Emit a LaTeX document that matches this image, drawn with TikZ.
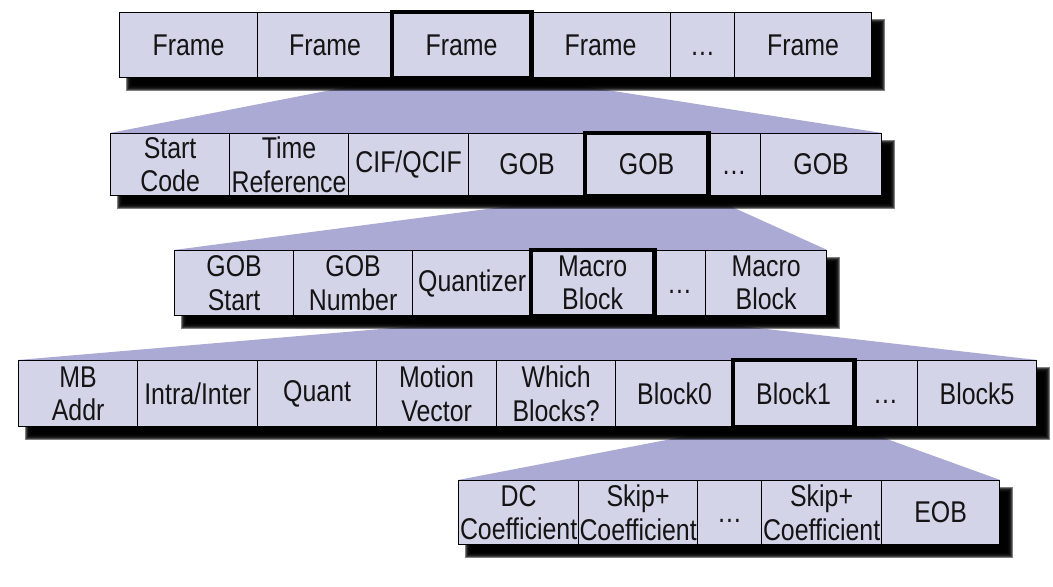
\documentclass[tikz,border=0pt]{standalone}
\usepackage{fontspec}
\setmainfont{Liberation Sans}[FakeStretch=0.83]
\definecolor{cellfill}{HTML}{D4D4E9}
\definecolor{fanfill}{HTML}{AAAAD5}
\pgfdeclarelayer{back}
\pgfdeclarelayer{shade}
\pgfsetlayers{back,shade,main}
\newcommand{\more}{\vphantom{F}\ldots}
% soft shadow under one row, from its first to its last cell
\newcommand{\rowshadow}[2]{%
  \foreach \e in {-3,...,3}
    \fill[shadowfill] ([shift={(10-\e,10-\e)}]#1.north west) rectangle ([shift={(10+\e,10+\e)}]#2.south east);}
\tikzset{
  cell/.style={draw, line width=0.6pt, fill=cellfill, inner sep=0pt, anchor=north west, align=center,
    text=black!92, font=\fontsize{15}{16.7}\selectfont},
  sel/.style={draw, line width=2.3pt},
  fan/.style={fill=fanfill},
  shadowfill/.style={fill=black, opacity=0.5}
}

\begin{document}
\begin{tikzpicture}[x=0.5pt,y=-0.5pt]
  \useasboundingbox (0,0) rectangle (1053,587);
  % frames
  \foreach \l/\r/\t [count=\i] in {119/257/Frame, 257/392/Frame, 392/530/Frame, 530/670/Frame, 670/734/\more, 734/871/Frame}
    \node[cell, minimum width={(\r-\l)*0.5pt}, minimum height=32.5pt] (fr\i) at (\l,12) {\t};
  % picture layer
  \foreach \l/\r/\t [count=\i] in {110/229/{Start\\Code}, 229/348/{Time\\Reference}, 348/468/{CIF/QCIF}, 468/585/GOB, 585/707/GOB, 707/760/\more, 760/881/GOB}
    \node[cell, minimum width={(\r-\l)*0.5pt}, minimum height=31pt] (pic\i) at (\l,133) {\t};
  % GOB layer
  \foreach \l/\r/\t [count=\i] in {174/293/{GOB\\Start}, 293/412/{GOB\\Number}, 412/531/Quantizer, 531/653/{Macro\\Block}, 653/705/\more, 705/826/{Macro\\Block}}
    \node[cell, minimum width={(\r-\l)*0.5pt}, minimum height=32.5pt] (gob\i) at (\l,250) {\t};
  % macro block layer
  \foreach \l/\r/\t [count=\i] in {18/137/{MB\\Addr}, 137/257/{Intra/Inter}, 257/376/Quant, 376/496/{Motion\\Vector}, 496/615/{Which\\Blocks?}, 615/733/Block0, 733/853/Block1, 853/917/\more, 917/1036/Block5}
    \node[cell, minimum width={(\r-\l)*0.5pt}, minimum height=33pt] (mb\i) at (\l,360) {\t};
  % block layer
  \foreach \l/\r/\t [count=\i] in {458/578/{DC\\Coefficient}, 578/697/{Skip+\\Coefficient}, 697/761/\more, 761/881/{Skip+\\Coefficient}, 881/999/EOB}
    \node[cell, minimum width={(\r-\l)*0.5pt}, minimum height=32pt] (blk\i) at (\l,480) {\t};
  % selected cells
  \foreach \n in {fr3,pic5,gob4,mb7}
    \draw[sel] (\n.north west) rectangle (\n.south east);
  % shadows
  \begin{pgfonlayer}{shade}
    \rowshadow{fr1}{fr6}
    \rowshadow{pic1}{pic7}
    \rowshadow{gob1}{gob6}
    \rowshadow{mb1}{mb9}
    \rowshadow{blk1}{blk5}
  \end{pgfonlayer}
  % zoom fans
  \begin{pgfonlayer}{back}
    \fill[fan] (fr3.south west) -- (fr3.south east) -- (pic7.north east) -- (pic1.north west) -- cycle;
    \fill[fan] (pic5.south west) -- (pic5.south east) -- (gob6.north east) -- (gob1.north west) -- cycle;
    \fill[fan] (gob4.south west) -- (gob4.south east) -- (mb9.north east) -- (mb1.north west) -- cycle;
    \fill[fan] (mb7.south west) -- (mb7.south east) -- (blk5.north east) -- (blk1.north west) -- cycle;
  \end{pgfonlayer}
\end{tikzpicture}
\end{document}
